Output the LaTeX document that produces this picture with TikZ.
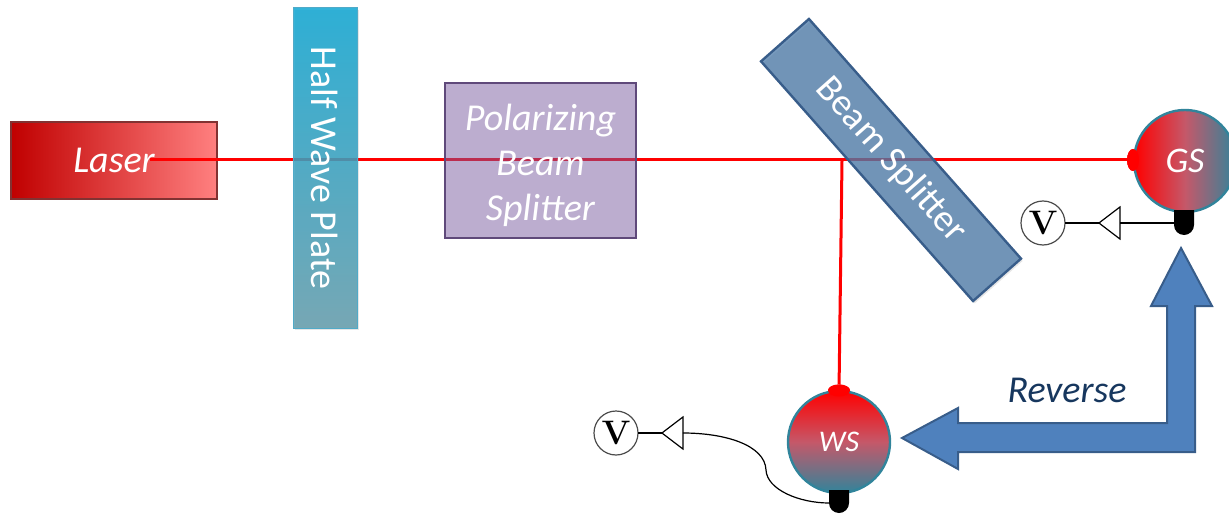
\documentclass[tikz,border=0pt]{standalone}
\usepackage{fontspec}
\newfontfamily\boxfont{Carlito}
\usetikzlibrary{shapes.geometric,shadows}
\definecolor{beamred}{RGB}{255,0,0}
\definecolor{teal}{RGB}{49,132,155}
\definecolor{midrose}{RGB}{197,88,105}
\definecolor{arrowblue}{RGB}{79,129,189}
\definecolor{arrowedge}{RGB}{56,93,138}
\tikzset{
	x=.5pt,y=-.5pt,
	beam/.style={beamred,line width=1.5pt},
	boxtext/.style={text=white,font=\boxfont\fontsize{19}{22.5}\selectfont,align=center,inner sep=0pt,outer sep=0pt,text opacity=1},
	plate/.style={boxtext,minimum width=160pt,minimum height=32pt,draw opacity=1,drop shadow={opacity=.2,shadow xshift=.8pt,shadow yshift=-1.2pt}},
	detector/.style={circle,draw=teal,line width=1.2pt,minimum size=51pt,inner sep=0pt,outer sep=0pt,text=white,font=\boxfont\itshape\fontsize{18}{20}\selectfont},
	spot/.style={ellipse,fill=beamred,inner sep=0pt,outer sep=0pt},
	meter/.style={circle,draw=black!70,line width=.6pt,fill=white,minimum size=22pt,inner sep=0pt,outer sep=0pt,font=\bfseries\fontsize{17}{17}\selectfont},
	amp/.style={isosceles triangle,isosceles triangle stretches,shape border rotate=180,draw=black,line width=.6pt,fill=white,minimum width=16pt,minimum height=10.5pt,inner sep=0pt,outer sep=0pt},
	lead/.style={black,line width=.6pt},
	stub/.style={black,line width=1.2pt}
}
\begin{document}
\begin{tikzpicture}
	\useasboundingbox (0,0) rectangle (1229,513);
	\node[boxtext,font=\boxfont\itshape\fontsize{19}{22}\selectfont,draw={rgb,255:red,130;green,50;blue,50},line width=1.3pt,left color={rgb,255:red,192;green,0;blue,0},right color={rgb,255:red,255;green,128;blue,128},minimum width=103pt,minimum height=38.5pt] (laser) at (114,160.5) {Laser};
	\coordinate (beamstart) at (150,160);
	\coordinate (turn) at (842,160);
	\node[spot,minimum width=6pt,minimum height=11pt] (gsspot) at (1133,160) {};
	\node[spot,minimum width=11pt,minimum height=6pt] (wsspot) at (839,390.5) {};
	\draw[beam] (beamstart) -- (gsspot);
	\draw[beam] (turn) -- (wsspot);
	%
	\node[plate,rotate=-90,fill opacity=.85,draw={rgb,255:red,80;green,170;blue,200},line width=.5pt,top color={rgb,255:red,15;green,166;blue,210},bottom color={rgb,255:red,99;green,157;blue,172}] (halfwave) at (325,168) {Half Wave Plate};
	\node[boxtext,fill opacity=.5,draw={rgb,255:red,95;green,73;blue,122},draw opacity=1,line width=1.25pt,fill={rgb,255:red,121;green,91;blue,159},minimum width=95.5pt,minimum height=77.5pt] (pbs) at (540.5,160.5) {};
	\node[boxtext,font=\boxfont\itshape\fontsize{19}{22.5}\selectfont] (pbslabel) at (540.5,165) {Polarizing\\Beam\\Splitter};
	\node[plate,rotate=-48.5,fill opacity=.75,draw={rgb,255:red,56;green,93;blue,138},line width=1.2pt,fill={rgb,255:red,75;green,121;blue,168}] (splitter) at (891,160) {Beam Splitter};
	%
	\node[detector,left color=beamred,right color=teal,middle color=midrose] (gs) at (1185,161) {GS};
	\node[spot,minimum width=6pt,minimum height=11pt] at (gsspot) {};
	\fill[black] (1174,210) -- (1174,225) arc[start angle=180,end angle=0,radius=10] -- (1194,210) -- cycle;
	\coordinate (gscap) at (1174,223);
	\node[amp] (gsamp) at (1112,223) {};
	\node[meter] (gsmeter) at (1043,223) {V};
	\draw[lead] (gscap) -- (gsamp.east);
	\draw[lead] (gsamp.west) -- (gsmeter.east);
	\draw[stub] (gsmeter.east) -- ++(7,0);
	%
	\node[detector,font=\boxfont\itshape\fontsize{15}{18}\selectfont,top color=beamred,bottom color=teal,middle color=midrose] (ws) at (839,442) {WS};
	\node[spot,minimum width=11pt,minimum height=6pt] at (wsspot) {};
	\fill[black] (829,490) -- (829,503) arc[start angle=180,end angle=0,radius=10] -- (849,490) -- cycle;
	\coordinate (wscap) at (829,503);
	\node[amp] (wsamp) at (675,433) {};
	\node[meter] (wsmeter) at (616,433) {V};
	\draw[lead] (wsamp.east) .. controls (725,433) and (765,445) .. (766,470) .. controls (767,490) and (800,503) .. (wscap);
	\draw[lead] (wsamp.west) -- (wsmeter.east);
	\draw[stub] (wsmeter.east) -- ++(7,0);
	%
	\draw[fill=arrowblue,draw=arrowedge,line width=1pt] (1181,248) -- (1212,306) -- (1195,306) -- (1195,452) -- (958,452) -- (958,469) -- (902,438) -- (958,408) -- (958,423) -- (1167,423) -- (1167,306) -- (1151,306) -- cycle;
	\node[text={rgb,255:red,23;green,55;blue,94},font=\boxfont\itshape\fontsize{19}{22}\selectfont,inner sep=0pt] (reverse) at (1067,390) {Reverse};
\end{tikzpicture}
\end{document}
